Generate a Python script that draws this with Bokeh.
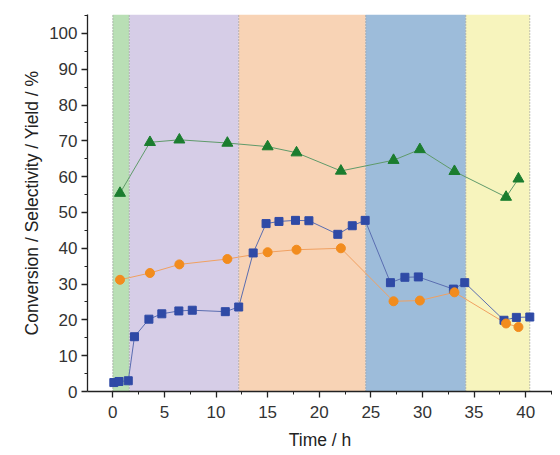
from bokeh.plotting import figure
from bokeh.models import Range1d, FixedTicker, ColumnDataSource
from bokeh.embed import file_html
from bokeh.resources import INLINE

# ---- data ----
stage_edges = [0.0, 1.6, 12.2, 24.5, 34.2, 40.4]
stage_colors = ["#b9dfb5", "#d6cde7", "#f8d3b5", "#9dbcda", "#f7f4bd"]

conv_time = [0.1, 0.6, 1.5, 2.1, 3.5, 4.75, 6.4, 7.7, 10.9, 12.2, 13.6, 14.85,
             16.1, 17.7, 19.0, 21.8, 23.2, 24.45, 26.9, 28.3, 29.6, 33.0, 34.1,
             37.9, 39.1, 40.4]
conversion = [2.5, 2.8, 3.0, 15.3, 20.2, 21.7, 22.5, 22.7, 22.3, 23.6, 38.7, 46.9,
              47.5, 47.8, 47.7, 43.9, 46.3, 47.8, 30.4, 31.9, 32.0, 28.6, 30.4,
              19.9, 20.7, 20.8]

sample_time = [0.7, 3.6, 6.45, 11.1, 15.0, 17.8, 22.1, 27.2, 29.75, 33.1, 38.1, 39.3]
selectivity = [55.4, 69.6, 70.3, 69.4, 68.4, 66.7, 61.6, 64.6, 67.6, 61.5, 54.3, 59.4]
yield_pct = [31.2, 33.1, 35.5, 37.0, 38.9, 39.6, 40.0, 25.2, 25.4, 27.7, 19.0, 18.0]

x_major = [0, 5, 10, 15, 20, 25, 30, 35, 40]
x_minor = [-2.5, 2.5, 7.5, 12.5, 17.5, 22.5, 27.5, 32.5, 37.5, 42.5]
y_major = [0, 10, 20, 30, 40, 50, 60, 70, 80, 90, 100]
y_minor = [5, 15, 25, 35, 45, 55, 65, 75, 85, 95, 105]

x_lo, x_hi = -2.45, 42.6
y_lo, y_hi = 0, 105.3

p = figure(frame_width=465, frame_height=377,
           min_border_left=87, min_border_right=0, min_border_top=14, min_border_bottom=56,
           x_range=Range1d(x_lo, x_hi), y_range=Range1d(y_lo, y_hi),
           output_backend="svg", toolbar_location=None)
p.outline_line_color = None
p.xgrid.visible = False
p.ygrid.visible = False
p.background_fill_color = "white"
p.border_fill_color = "white"

# stage bands
band_src = ColumnDataSource(dict(left=stage_edges[:-1], right=stage_edges[1:],
                                 color=stage_colors))
p.quad(left="left", right="right", bottom=y_lo, top=y_hi, fill_color="color",
       line_color=None, source=band_src)
p.segment(x0=stage_edges, x1=stage_edges, y0=[y_lo] * len(stage_edges),
          y1=[y_hi] * len(stage_edges), line_color="#8a8a8a", line_width=1,
          line_dash="1 2")

# series
p.line(sample_time, selectivity, line_color="#5f9a6a", line_width=1)
p.line(conv_time, conversion, line_color="#5a6db0", line_width=1)
p.line(sample_time, yield_pct, line_color="#f0a060", line_width=1)

p.scatter(sample_time, selectivity, marker="triangle", size=11,
          fill_color="#1b7d2f", line_color="#1b7d2f")
p.scatter(conv_time, conversion, marker="square", size=8,
          fill_color="#2f4aa6", line_color="#2f4aa6")
p.scatter(sample_time, yield_pct, marker="circle", size=9,
          fill_color="#f28c1e", line_color="#f28c1e")

# axes
for ax in (p.xaxis[0], p.yaxis[0]):
    ax.axis_line_color = "#222222"
    ax.axis_line_width = 1.3
    ax.major_tick_line_color = "#222222"
    ax.minor_tick_line_color = "#222222"
    ax.major_tick_line_width = 1.3
    ax.minor_tick_line_width = 1
    ax.major_tick_in = 0
    ax.major_tick_out = 6
    ax.minor_tick_in = 0
    ax.minor_tick_out = 3
    ax.major_label_text_font = "Liberation Sans"
    ax.major_label_text_font_size = "17px"
    ax.major_label_text_color = "#333333"
    ax.axis_label_text_font = "Liberation Sans"
    ax.axis_label_text_font_size = "17.5px"
    ax.axis_label_text_font_style = "normal"
    ax.axis_label_text_color = "#222222"

p.xaxis[0].ticker = FixedTicker(ticks=x_major, minor_ticks=x_minor)
p.yaxis[0].ticker = FixedTicker(ticks=y_major, minor_ticks=y_minor)
p.xaxis[0].axis_label = "Time / h"
p.yaxis[0].axis_label = "Conversion / Selectivity / Yield / %"
p.xaxis[0].major_label_standoff = 8
p.xaxis[0].axis_label_standoff = 9
p.yaxis[0].major_label_standoff = 4
p.yaxis[0].axis_label_standoff = 4

open("out.html", "w").write(file_html(p, INLINE))
